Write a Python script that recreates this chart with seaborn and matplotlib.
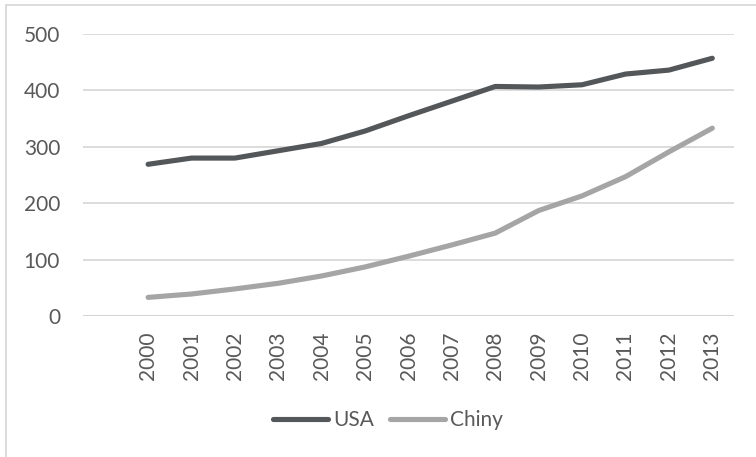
import matplotlib
matplotlib.use("Agg")
import matplotlib.pyplot as plt
from matplotlib.lines import Line2D
import pandas as pd
import seaborn as sns

years = ["2000", "2001", "2002", "2003", "2004", "2005", "2006",
         "2007", "2008", "2009", "2010", "2011", "2012", "2013"]
usa = [269, 280, 280, 293, 306, 328, 355, 381, 407, 406, 410, 429, 436, 457]
chiny = [33, 39, 48, 58, 71, 87, 106, 126, 147, 187, 213, 247, 291, 333]
series_names = ["USA", "Chiny"]
colors = ["#54575a", "#a5a5a5"]
y_ticks = [0, 100, 200, 300, 400, 500]

sns.set_theme(style="white")
plt.rcParams["font.family"] = ["Lato", "DejaVu Sans"]

df = pd.DataFrame({
    "pos": list(range(len(years))) * 2,
    "value": usa + chiny,
    "series": [series_names[0]] * len(years) + [series_names[1]] * len(years),
})

W, H = 756, 457
fig = plt.figure(figsize=(W / 100, H / 100), dpi=100)
ax = fig.add_axes([83 / W, (H - 316) / H, 651 / W, 282 / H])

sns.lineplot(data=df, x="pos", y="value", hue="series",
             palette=dict(zip(series_names, colors)), linewidth=3.7,
             legend=False, ax=ax, solid_capstyle="round", zorder=3)

ax.set_xlim(-1.5, len(years) - 0.5)
ax.set_ylim(0, 500)
ax.set_yticks(y_ticks)
ax.set_xticks(range(len(years)))
ax.set_xticklabels(years, rotation=90)
ax.set_xlabel("")
ax.set_ylabel("")
for s in ax.spines.values():
    s.set_visible(False)
ax.grid(axis="y", color="#d9d9d9", linewidth=1.3)
ax.axhline(0, color="#d4d4d4", linewidth=2.0, zorder=2)
ax.tick_params(axis="both", length=0, labelsize=15, colors="#595959")
ax.tick_params(axis="y", pad=16.5)
ax.tick_params(axis="x", pad=11.5)

# chart-area frame edges
fig.add_artist(Line2D([6 / W, 1], [1 - 5 / H, 1 - 5 / H], color="#d9d9d9",
                      linewidth=1.3, transform=fig.transFigure))
fig.add_artist(Line2D([6 / W, 6 / W], [0, 1 - 5 / H], color="#d9d9d9",
                      linewidth=1.3, transform=fig.transFigure))

handles = [Line2D([0], [0], color=c, linewidth=3.7, solid_capstyle="round")
           for c in colors]
fig.legend(handles, series_names, loc="center", ncol=2,
           bbox_to_anchor=(388 / W, 1 - 420 / H), frameon=False,
           handlelength=2.65, handletextpad=0.25, columnspacing=0.75,
           fontsize=15, labelcolor="#595959")

fig.savefig("out.png", dpi=100)
